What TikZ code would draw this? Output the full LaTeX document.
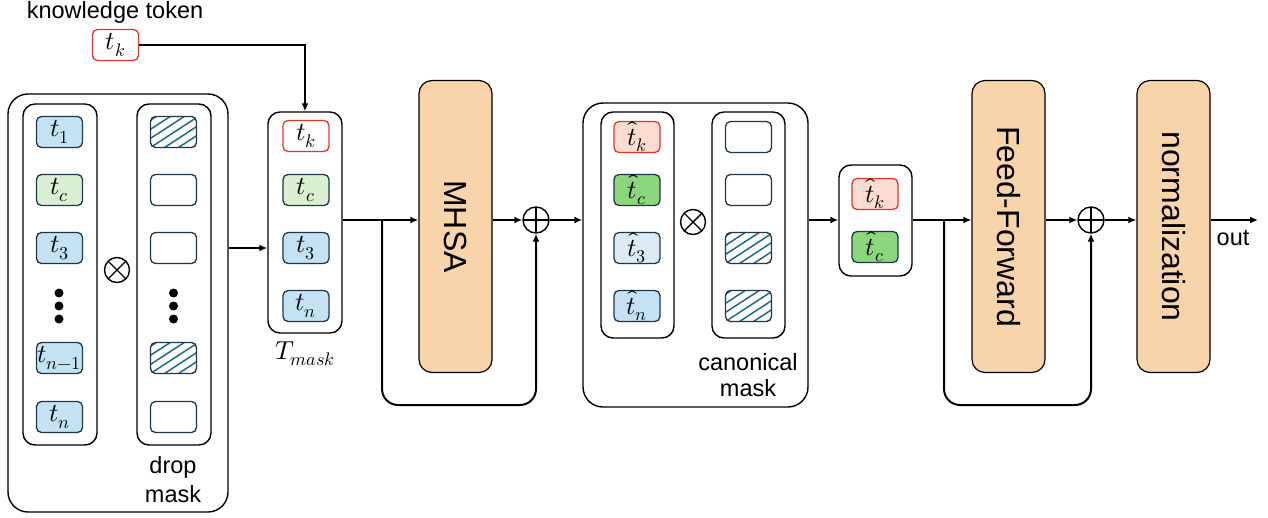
\documentclass[tikz,border=0pt]{standalone}
\usepackage{fontspec}
\usepackage{unicode-math}
\setmainfont{Liberation Sans}
\setmathfont{Latin Modern Math}
\usetikzlibrary{arrows.meta,calc}

\definecolor{tblue}{HTML}{C3E3F4}
\definecolor{tgreen}{HTML}{DAF0D2}
\definecolor{hgreen}{HTML}{8CD67C}
\definecolor{hpink}{HTML}{FBDCD1}
\definecolor{hlblue}{HTML}{DCEAF6}
\definecolor{peach}{HTML}{F8D4AA}
\definecolor{tokb}{HTML}{1F3747}
\definecolor{hatchc}{HTML}{1F6B8E}
\definecolor{tred}{HTML}{E8332A}

\newcommand{\labfont}{\fontsize{23.5}{27}\selectfont}
\newcommand{\tokfont}{\fontsize{26}{30}\selectfont}
\newcommand{\blkfont}{\fontsize{32}{36}\selectfont}

\tikzset{
  tok/.style={draw=tokb, line width=1.3, rounded corners=5, minimum width=46,
              minimum height=31, inner sep=0, font=\tokfont},
  tb/.style={tok, fill=tblue},
  tg/.style={tok, fill=tgreen},
  hg/.style={tok, fill=hgreen},
  hl/.style={tok, fill=hlblue},
  tk/.style={tok, draw=tred, fill=white},
  hk/.style={tok, draw=tred, fill=hpink},
  blank/.style={tok, fill=white},
  hatched/.style={tok, fill=white, path picture={
      \foreach \i in {-56,-42,...,56}
        \draw[hatchc, line width=1.5]
          ([xshift=\i]path picture bounding box.south west) -- ++(60,-39);}},
  col/.style={draw, line width=1.4, rounded corners=12, inner sep=0},
  outer/.style={draw, line width=1.4, rounded corners=20, inner sep=0},
  block/.style={draw, line width=1.2, fill=peach, rounded corners=13,
                minimum width=73, minimum height=292, inner sep=0},
  lab/.style={font=\labfont, inner sep=0},
  dot/.style={circle, fill=black, minimum size=9, inner sep=0},
  arr/.style={line width=2, -{Latex[length=8,width=7]}},
  otimes/.style={circle, draw, line width=1.4, minimum size=25, inner sep=0,
      path picture={
        \draw[line width=1.4] (path picture bounding box.north west) -- (path picture bounding box.south east);
        \draw[line width=1.4] (path picture bounding box.north east) -- (path picture bounding box.south west);}},
  oplus/.style={circle, draw, line width=1.4, minimum size=26, inner sep=0, fill=white,
      path picture={
        \draw[line width=1.4] (path picture bounding box.north) -- (path picture bounding box.south);
        \draw[line width=1.4] (path picture bounding box.west) -- (path picture bounding box.east);}},
}

\begin{document}
\begin{tikzpicture}[x=1pt, y=-1pt]
\useasboundingbox (0,0) rectangle (1268,517);

% knowledge token input
\node[lab] (ktxt) at (115,12) {knowledge token};
\node[tk] (tkin) at (115.5,45) {$t_k$};

% drop-mask stage
\node[outer, minimum width=220, minimum height=418] (drop) at (118,303) {};
\node[col, minimum width=74, minimum height=341] (dcolL) at (60,274.5) {};
\node[col, minimum width=74, minimum height=341] (dcolR) at (174,274.5) {};
\node[tb] (d1) at (59.5,132) {$t_1$};
\node[tg] (dc) at (59.5,190) {$t_c$};
\node[tb] (d3) at (59.5,248) {$t_3$};
\node[dot] (ld1) at (59,293) {};
\node[dot] (ld2) at (59,306) {};
\node[dot] (ld3) at (59,319) {};
\node[tb] (dn1) at (59.5,358) {$t_{n-1}$};
\node[tb] (dn) at (59.5,417) {$t_n$};
\node[hatched] (m1) at (173.5,132) {};
\node[blank] (m2) at (173.5,190) {};
\node[blank] (m3) at (173.5,248) {};
\node[dot] (rd1) at (173.5,293) {};
\node[dot] (rd2) at (173.5,306) {};
\node[dot] (rd3) at (173.5,319) {};
\node[hatched] (m4) at (173.5,358) {};
\node[blank] (m5) at (173.5,417) {};
\node[otimes] (x1) at (117,270) {};
\node[lab] (droplab) at (173,467) {drop};
\node[lab] (dmasklab) at (173,494) {mask};

% masked token set
\node[col, minimum width=74, minimum height=221] (tmask) at (305,222.5) {};
\node[tk] (tm1) at (306,136) {$t_k$};
\node[tg] (tm2) at (306,190) {$t_c$};
\node[tb] (tm3) at (306,248) {$t_3$};
\node[tb] (tm4) at (306,306) {$t_n$};
\node[font=\tokfont, inner sep=0] (tmlab) at (305,354) {$T_{mask}$};

% attention block with residual
\node[block] (mhsa) at (455.5,226.5) {};
\node[rotate=-90, font=\blkfont, inner sep=0] at (mhsa) {MHSA};
\node[oplus] (p1) at (536,220) {};

% canonical-mask stage
\node[outer, minimum width=225, minimum height=304] (canon) at (695.5,255) {};
\node[col, minimum width=73, minimum height=226] (ccolL) at (637.5,225) {};
\node[col, minimum width=73, minimum height=226] (ccolR) at (748.5,225) {};
\node[hk] (c1) at (637,137) {$\hat{t}_k$};
\node[hg] (c2) at (637,190) {$\hat{t}_c$};
\node[hl] (c3) at (637,248) {$\hat{t}_3$};
\node[tb] (c4) at (637,306) {$\hat{t}_n$};
\node[blank] (cm1) at (748.5,137) {};
\node[blank] (cm2) at (748.5,190) {};
\node[hatched] (cm3) at (748.5,248) {};
\node[hatched] (cm4) at (748.5,306) {};
\node[otimes] (x2) at (693,222) {};
\node[lab] (canlab) at (748,362) {canonical};
\node[lab] (cmasklab) at (748,388) {mask};

% kept tokens
\node[col, minimum width=73, minimum height=111] (kept) at (875.5,220.5) {};
\node[hk] (k1) at (875,194) {$\hat{t}_k$};
\node[hg] (k2) at (875,247) {$\hat{t}_c$};

% feed-forward block with residual, then normalization
\node[block] (ff) at (1008.5,226.5) {};
\node[rotate=-90, font=\blkfont, inner sep=0] at (ff) {Feed-Forward};
\node[oplus] (p2) at (1091,220) {};
\node[block] (norm) at (1173.5,226.5) {};
\node[rotate=-90, font=\blkfont, inner sep=0] at (norm) {normalization};
\coordinate (outend) at (1258,220);
\node[lab] (outlab) at (1233,238) {out};

% connectors
\draw[arr] (tkin.east) -| (tmask.north);
\draw[arr] (drop.east |- tm3) -- (tmask.west |- tm3);
\draw[arr] (tmask.east |- p1) -- (mhsa.west |- p1);
\draw[arr] (mhsa.east |- p1) -- (p1.west);
\coordinate (br1) at (382,220);
\coordinate (lo1) at (382,405);
\draw[arr, rounded corners=16] (br1) -- (lo1) -| (p1.south);
\draw[arr] (p1.east) -- (canon.west |- p1);
\draw[arr] (canon.east |- p1) -- (kept.west |- p1);
\draw[arr] (kept.east |- p2) -- (ff.west |- p2);
\draw[arr] (ff.east |- p2) -- (p2.west);
\coordinate (br2) at (944,220);
\coordinate (lo2) at (944,405);
\draw[arr, rounded corners=16] (br2) -- (lo2) -| (p2.south);
\draw[arr] (p2.east) -- (norm.west |- p2);
\draw[arr] (norm.east |- p2) -- (outend);
\end{tikzpicture}
\end{document}
